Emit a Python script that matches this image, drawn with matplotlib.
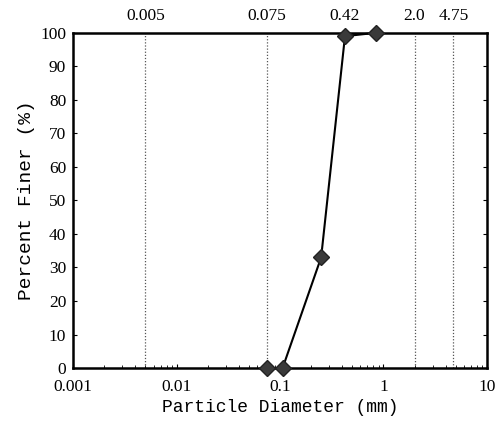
import matplotlib.pyplot as plt
from matplotlib.ticker import FixedLocator, NullFormatter

# sieve data
diameter = [0.075, 0.106, 0.25, 0.425, 0.85]
finer = [0, 0, 33, 99, 100]

# reference sizes marked at the top
ref_sizes = [0.005, 0.075, 2.0, 4.75]
top_ticks = [0.005, 0.075, 0.42, 2.0, 4.75]
top_labels = ['0.005', '0.075', '0.42', '2.0', '4.75']

x_ticks = [0.001, 0.01, 0.1, 1, 10]
x_labels = ['0.001', '0.01', '0.1', '1', '10']
y_ticks = list(range(0, 101, 10))

fig = plt.figure(figsize=(5.04, 4.26), dpi=100)
ax = fig.add_axes([0.145, 0.136, 0.821, 0.787])

for s in ref_sizes:
    ax.axvline(s, color='#555555', lw=0.9, ls=(0, (1, 1.5)), zorder=1)

ax.plot(diameter, finer, color='black', lw=1.5, marker='D', ms=8,
        mfc='#3a3a3a', mec='#222222', zorder=3, clip_on=False)

ax.set_xscale('log')
ax.set_xlim(0.001, 10)
ax.set_ylim(0, 100)
ax.set_xticks(x_ticks)
ax.set_xticklabels(x_labels)
ax.xaxis.set_minor_formatter(NullFormatter())
ax.set_yticks(y_ticks)

tick_font = {'family': 'Liberation Serif', 'size': 12.5}
for lab in ax.get_xticklabels() + ax.get_yticklabels():
    lab.set_fontfamily('Liberation Serif')
    lab.set_fontsize(12.5)

ax.tick_params(direction='in', length=3, width=0.8, top=True, right=True)
ax.tick_params(axis='x', pad=8)
ax.tick_params(axis='y', pad=5)
ax.tick_params(which='minor', direction='in', length=2, width=0.6, top=True)

for sp in ax.spines.values():
    sp.set_linewidth(1.8)

ax.set_xlabel('Particle Diameter (mm)', fontfamily='Liberation Mono', fontsize=13, labelpad=3)
ax.set_ylabel('Percent Finer (%)', fontfamily='Liberation Mono', fontsize=14, labelpad=4)

top = ax.twiny()
top.set_xscale('log')
top.set_xlim(ax.get_xlim())
top.xaxis.set_major_locator(FixedLocator(top_ticks))
top.xaxis.set_minor_locator(FixedLocator([]))
top.set_xticklabels(top_labels, fontdict=tick_font)
top.tick_params(length=0, pad=6)
for sp in top.spines.values():
    sp.set_visible(False)

fig.savefig('out.png', dpi=100)
